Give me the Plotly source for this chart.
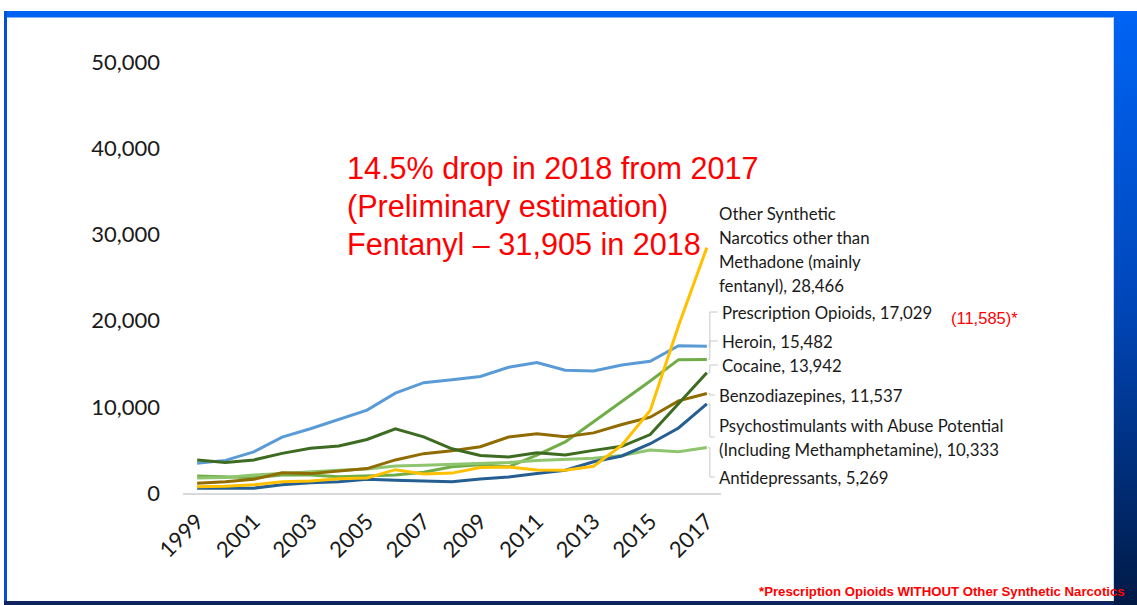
import plotly.graph_objects as go

# ---------------- data ----------------
years = list(range(1999, 2018))
presc_opioids = [3442, 3785, 4770, 6483, 7456, 8516, 9612, 11589, 12796, 13149,
                 13523, 14583, 15140, 14240, 14145, 14838, 15281, 17087, 17029]
heroin = [1960, 1842, 1779, 2089, 2080, 1878, 2009, 2088, 2399, 3041,
          3278, 3036, 4397, 5925, 8257, 10574, 12989, 15469, 15482]
synthetic = [730, 782, 957, 1295, 1400, 1664, 1742, 2707, 2213, 2306,
             2946, 3007, 2666, 2628, 3105, 5544, 9580, 19413, 28466]
cocaine = [3822, 3544, 3833, 4599, 5199, 5443, 6208, 7448, 6512, 5129,
           4350, 4183, 4681, 4404, 4944, 5415, 6784, 10375, 13942]
benzo = [1135, 1298, 1594, 2358, 2248, 2585, 2834, 3835, 4564, 4914,
         5368, 6497, 6872, 6524, 6973, 7945, 8791, 10684, 11537]
psycho = [547, 578, 563, 954, 1202, 1315, 1591, 1475, 1397, 1297,
          1632, 1854, 2266, 2635, 3627, 4298, 5716, 7542, 10333]
antidep = [1749, 1798, 2093, 2301, 2425, 2652, 2786, 3139, 3210, 3325,
           3379, 3531, 3781, 3916, 4027, 4347, 4980, 4790, 5269]

x_tick_years = list(range(1999, 2018, 2))
y_tick_vals = [0, 10000, 20000, 30000, 40000, 50000]

synthetic_label = ["Other Synthetic", "Narcotics other than", "Methadone (mainly", "fentanyl), 28,466"]
presc_label = ["Prescription Opioids, 17,029"]
heroin_label = ["Heroin, 15,482"]
cocaine_label = ["Cocaine, 13,942"]
benzo_label = ["Benzodiazepines, 11,537"]
psycho_label = ["Psychostimulants with Abuse Potential", "(Including Methamphetamine), 10,333"]
antidep_label = ["Antidepressants, 5,269"]

headline = ["14.5% drop in 2018 from 2017", "(Preliminary estimation)", "Fentanyl \u2013 31,905 in 2018"]
presc_without = "(11,585)*"
footnote = "*Prescription Opioids WITHOUT Other Synthetic Narcotics"

# ---------------- figure geometry (pixels) ----------------
W, H = 1137, 605
PX_L, PX_R = 183, 721       # plot area x
PX_T, PX_B = 62, 493        # plot area y (50,000 .. 0)
YMAX = 50000

def px_to_val(py):
    return (PX_B - py) / (PX_B - PX_T) * YMAX

series = [
    ("Prescription Opioids", presc_opioids, "#5B9BD5", presc_label),
    ("Heroin", heroin, "#70AD47", heroin_label),
    ("Antidepressants", antidep, "#8FC56E", antidep_label),
    ("Benzodiazepines", benzo, "#8F6B00", benzo_label),
    ("Cocaine", cocaine, "#3D6B22", cocaine_label),
    ("Psychostimulants", psycho, "#255E91", psycho_label),
    ("Other Synthetic Narcotics", synthetic, "#FFC000", synthetic_label),
]

fig = go.Figure()
for name, vals, color, _ in series:
    fig.add_trace(go.Scatter(x=years, y=vals, mode="lines", name=name,
                             line=dict(color=color, width=3), showlegend=False,
                             hoverinfo="skip"))

# label layout: pixel y of each text line, pixel x of text start
label_px = {
    "Other Synthetic Narcotics": ([213, 237, 261, 285], 717),
    "Prescription Opioids": ([312], 720),
    "Heroin": ([341], 720),
    "Cocaine": ([365], 720),
    "Benzodiazepines": ([395], 717),
    "Psychostimulants": ([425, 449], 717),
    "Antidepressants": ([477], 717),
}
label_font = dict(family="Lato, Carlito, sans-serif", size=16.8, color="#1a1a1a")
annotations = []
shapes = []
px_per_year = (PX_R - PX_L) / 19
x_bend = 2017 + (710 - 707) / px_per_year
for name, vals, color, lines in series:
    pys, pxs = label_px[name]
    x_text = 2017 + (pxs - 707) / px_per_year
    x_lab = 2017 + (pxs - 2 - 707) / px_per_year
    for txt, py in zip(lines, pys):
        annotations.append(dict(x=x_text, y=px_to_val(py), xref="x", yref="y", text=txt,
                                showarrow=False, xanchor="left", yanchor="middle",
                                font=label_font))
    if name != "Other Synthetic Narcotics":
        ymid = px_to_val(sum(pys) / len(pys))
        shapes.append(dict(type="path", xref="x", yref="y",
                           path=f"M {2017.05},{vals[-1]} L {x_bend},{vals[-1]} L {x_bend},{ymid} L {x_lab},{ymid}",
                           line=dict(color="#C8C8C8", width=1)))

red_font = dict(family="Liberation Sans, Arial, sans-serif", size=30.6, color="#FF0000")
for txt, py in zip(headline, [168, 206, 244]):
    annotations.append(dict(x=345, y=py, xref="x2", yref="y2", text=txt, showarrow=False,
                            xanchor="left", yanchor="middle", font=red_font))
annotations.append(dict(x=949, y=318, xref="x2", yref="y2", text=presc_without, showarrow=False,
                        xanchor="left", yanchor="middle",
                        font=dict(family="Liberation Sans, Arial, sans-serif", size=16.5, color="#FF0000")))

# right gradient band of the slide frame (fills render beneath text)
fig.add_trace(go.Scatter(x=[1114, 1137, 1137, 1114, 1114], y=[11, 11, 605, 605, 11],
                         xaxis="x2", yaxis="y2", mode="lines", fill="toself",
                         line=dict(width=0, color="rgba(0,0,0,0)"),
                         fillgradient=dict(type="vertical", start=605, stop=11,
                                           colorscale=[[0, "#001A45"], [0.5, "#0046B8"], [1, "#0064F5"]]),
                         hoverinfo="skip", showlegend=False))
# footnote
fig.add_trace(go.Scatter(x=[759], y=[593], xaxis="x2", yaxis="y2", mode="text", text=[footnote],
                         textposition="middle right", hoverinfo="skip", showlegend=False,
                         cliponaxis=False,
                         textfont=dict(family="Liberation Sans, Arial, sans-serif", size=13.2,
                                       color="#FF0000", weight="bold")))

# frame pieces
shapes += [
    dict(type="rect", xref="x2", yref="y2", x0=4, x1=1137, y0=11, y1=17,
         fillcolor="#0062F0", line=dict(width=0), layer="below"),
    dict(type="rect", xref="x2", yref="y2", x0=4, x1=7, y0=11, y1=605,
         fillcolor="#0050D0", line=dict(width=0), layer="below"),
    dict(type="rect", xref="x2", yref="y2", x0=4, x1=1114, y0=601, y1=605,
         fillcolor="#0F2560", line=dict(width=0), layer="below"),
    dict(type="line", xref="x2", yref="y2", x0=1113.5, x1=1113.5, y0=17, y1=601,
         line=dict(color="#C9D6EC", width=1), layer="below"),
    dict(type="line", xref="x2", yref="y2", x0=7, x1=1113, y0=17.5, y1=17.5,
         line=dict(color="#7FB0FF", width=1), layer="below"),
]

tick_font = dict(family="Lato, Carlito, sans-serif", size=22, color="#1a1a1a")
fig.update_layout(
    template="none",
    width=W, height=H,
    margin=dict(l=0, r=0, t=0, b=0, pad=0, autoexpand=False),
    paper_bgcolor="white", plot_bgcolor="rgba(0,0,0,0)",
    showlegend=False,
    xaxis=dict(domain=[PX_L / W, PX_R / W], range=[1998.5, 2017.5],
               tickvals=x_tick_years, tickangle=-45, tickfont=tick_font,
               showgrid=False, zeroline=False, showline=True, linecolor="#D9D9D9", linewidth=1.5,
               ticks="", ticklabelstandoff=5, fixedrange=True, automargin=False),
    yaxis=dict(domain=[1 - PX_B / H, 1 - PX_T / H], range=[0, YMAX],
               tickvals=y_tick_vals, tickformat=",d", tickfont=tick_font,
               showgrid=False, zeroline=False, showline=False,
               ticks="", ticklabelstandoff=22, fixedrange=True, automargin=False),
    xaxis2=dict(domain=[0, 1], range=[0, W], visible=False, fixedrange=True, anchor="y2",
                automargin=False),
    yaxis2=dict(domain=[0, 1], range=[H, 0], visible=False, fixedrange=True, anchor="x2",
                automargin=False),
    annotations=annotations,
    shapes=shapes,
)

fig.write_html("out.html", config={"displayModeBar": False},
               post_script="document.body.style.margin='0';document.body.style.overflow='hidden';")
